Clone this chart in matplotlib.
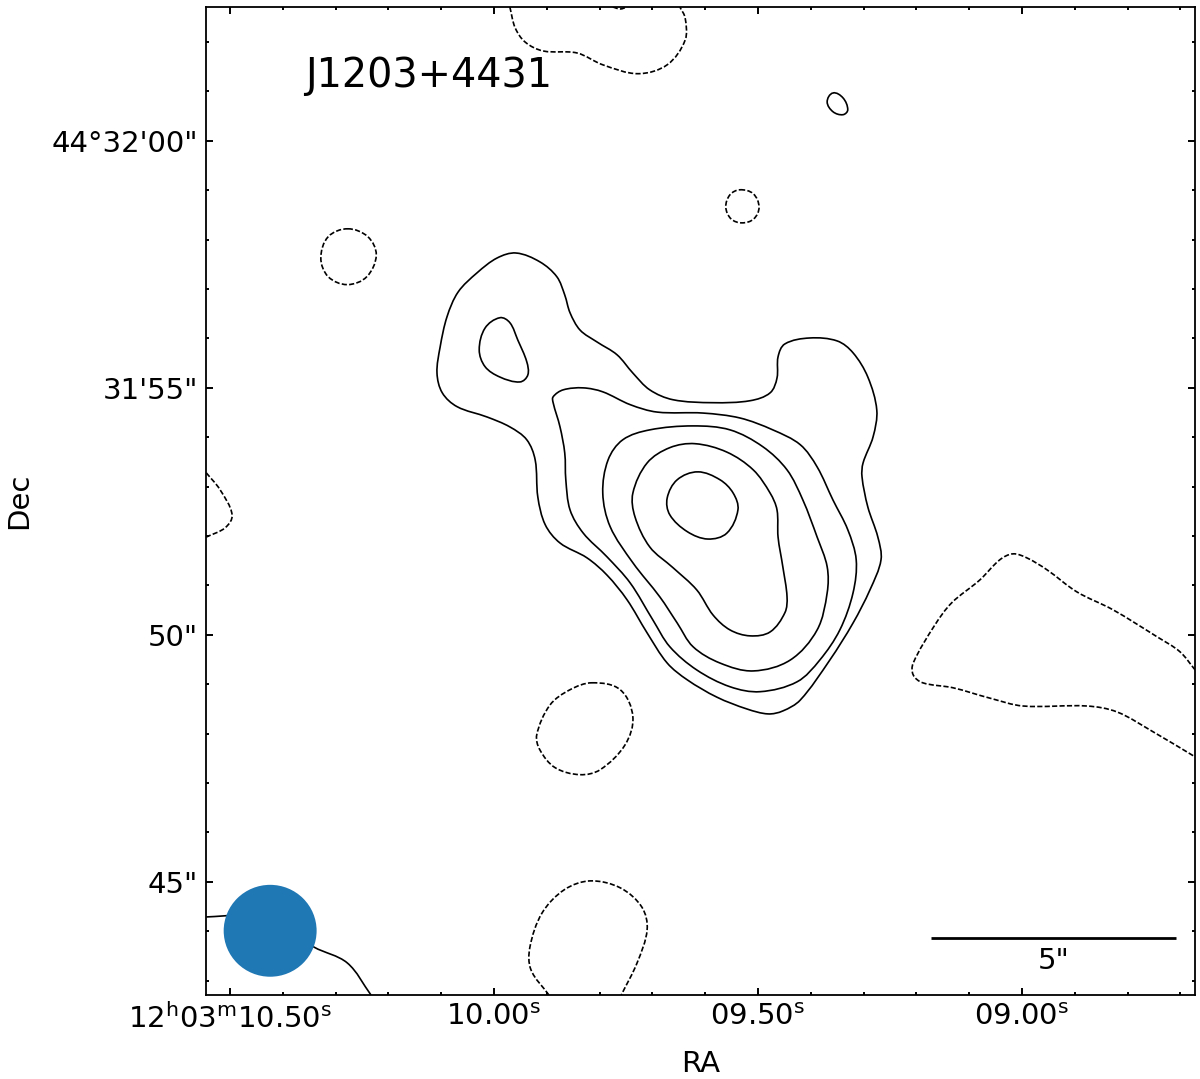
import matplotlib
matplotlib.use('Agg')
import matplotlib.pyplot as plt
from matplotlib.patches import Ellipse, PathPatch
from matplotlib.path import Path
import numpy as np

# tick positions, RA in seconds (12h03m + s), Dec in arcsec past 44d31m
ra_major = [10.5, 10.0, 9.5, 9.0]
ra_labels = ["12$^{\\rm h}$03$^{\\rm m}$10.50$^{\\rm s}$", "10.00$^{\\rm s}$", "09.50$^{\\rm s}$", "09.00$^{\\rm s}$"]
ra_minor = [10.4, 10.3, 10.2, 10.1, 9.9, 9.8, 9.7, 9.6, 9.4, 9.3, 9.2, 9.1, 8.9, 8.8, 8.7]
dec_major = [60, 55, 50, 45]
dec_labels = ["44°32'00\"", "31'55\"", "50\"", "45\""]
dec_minor = [62, 61, 59, 58, 57, 56, 54, 53, 52, 51, 49, 48, 47, 46, 44, 43]

# closed positive contours
c1_ra = [9.958, 9.913, 9.881, 9.866, 9.856, 9.837, 9.805, 9.767, 9.737, 9.705, 9.661, 9.585, 9.515, 9.477, 9.464, 9.462, 9.449, 9.402, 9.350, 9.320, 9.292, 9.275, 9.282, 9.301, 9.303, 9.292, 9.273, 9.267, 9.288, 9.320, 9.364, 9.420, 9.453, 9.481, 9.521, 9.578, 9.634, 9.672, 9.710, 9.748, 9.786, 9.824, 9.875, 9.903, 9.917, 9.922, 9.938, 9.970, 10.013, 10.070, 10.098, 10.108, 10.102, 10.089, 10.068, 10.032, 9.994]
c1_dec = [57.73, 57.55, 57.25, 56.88, 56.52, 56.17, 55.93, 55.67, 55.30, 54.96, 54.76, 54.70, 54.74, 54.90, 55.20, 55.63, 55.89, 56.01, 55.95, 55.71, 55.22, 54.55, 54.01, 53.48, 53.20, 52.59, 51.98, 51.52, 50.91, 50.24, 49.49, 48.68, 48.46, 48.40, 48.50, 48.74, 49.09, 49.43, 50.04, 50.71, 51.21, 51.56, 51.86, 52.23, 52.79, 53.54, 53.95, 54.21, 54.41, 54.62, 54.90, 55.30, 55.83, 56.44, 56.94, 57.33, 57.63]

c2_ra = [9.989, 9.970, 9.955, 9.938, 9.936, 9.951, 9.989, 10.017, 10.028, 10.017]
c2_dec = [56.42, 56.32, 55.97, 55.53, 55.26, 55.12, 55.22, 55.43, 55.77, 56.21]

c3_ra = [9.888, 9.869, 9.831, 9.794, 9.742, 9.691, 9.604, 9.534, 9.472, 9.420, 9.388, 9.358, 9.330, 9.314, 9.320, 9.345, 9.383, 9.426, 9.496, 9.553, 9.616, 9.667, 9.699, 9.742, 9.786, 9.831, 9.856, 9.864, 9.866, 9.875, 9.888]
c3_dec = [54.82, 54.96, 55.00, 54.92, 54.66, 54.51, 54.49, 54.39, 54.15, 53.85, 53.40, 52.73, 52.13, 51.52, 50.85, 50.10, 49.49, 49.05, 48.85, 48.95, 49.29, 49.76, 50.30, 51.05, 51.58, 52.06, 52.53, 53.14, 53.68, 54.21, 54.70]

c4_ra = [9.623, 9.553, 9.491, 9.445, 9.415, 9.388, 9.369, 9.369, 9.388, 9.439, 9.509, 9.572, 9.623, 9.653, 9.686, 9.737, 9.780, 9.794, 9.784, 9.756, 9.705]
c4_dec = [54.23, 54.15, 53.81, 53.34, 52.73, 51.98, 51.38, 50.85, 50.10, 49.49, 49.27, 49.43, 49.76, 50.24, 50.77, 51.46, 52.19, 52.87, 53.54, 53.95, 54.15]

c5_ra = [9.619, 9.559, 9.509, 9.477, 9.464, 9.462, 9.453, 9.445, 9.449, 9.477, 9.515, 9.553, 9.585, 9.616, 9.661, 9.705, 9.733, 9.737, 9.710, 9.667]
c5_dec = [53.87, 53.70, 53.34, 52.87, 52.53, 51.98, 51.38, 50.77, 50.45, 50.06, 49.98, 50.10, 50.40, 50.91, 51.36, 51.78, 52.39, 52.87, 53.48, 53.79]

c6_ra = [9.614, 9.572, 9.547, 9.538, 9.559, 9.595, 9.634, 9.667, 9.672, 9.653]
c6_dec = [53.30, 53.14, 52.87, 52.53, 52.06, 51.94, 52.09, 52.43, 52.77, 53.14]

c7_ra = [9.358, 9.339, 9.330, 9.339, 9.358, 9.369]
c7_dec = [60.97, 60.87, 60.63, 60.53, 60.59, 60.79]

# positive contour running off the bottom left corner
c8_ra = [10.545, 10.481, 10.405, 10.341, 10.278, 10.233]
c8_dec = [44.29, 44.31, 44.13, 43.68, 43.36, 42.71]

# negative contours (dashed)
d1_ra = [9.970, 9.960, 9.941, 9.907, 9.843, 9.794, 9.727, 9.672, 9.638, 9.638, 9.648]
d1_dec = [62.71, 62.29, 62.00, 61.82, 61.78, 61.54, 61.36, 61.54, 62.04, 62.49, 62.71]

d2_ra = [10.277, 10.239, 10.223, 10.241, 10.278, 10.314, 10.328, 10.314]
d2_dec = [58.22, 58.06, 57.69, 57.25, 57.09, 57.25, 57.63, 58.06]

d3_ra = [9.534, 9.509, 9.498, 9.508, 9.530, 9.551, 9.561, 9.553]
d3_dec = [59.01, 58.93, 58.66, 58.42, 58.34, 58.42, 58.66, 58.91]

d4_ra = [10.545, 10.519, 10.496, 10.509, 10.545]
d4_dec = [53.28, 52.94, 52.43, 52.17, 51.98]

d5_ra = [8.672, 8.701, 8.744, 8.828, 8.896, 8.953, 8.991, 9.017, 9.042, 9.080, 9.133, 9.165, 9.206, 9.206, 9.188, 9.131, 9.061, 8.998, 8.877, 8.820, 8.752, 8.672]
d5_dec = [49.29, 49.66, 49.96, 50.51, 50.87, 51.32, 51.56, 51.64, 51.52, 51.11, 50.65, 50.20, 49.43, 49.19, 49.03, 48.93, 48.72, 48.56, 48.56, 48.44, 48.04, 47.53]

d6_ra = [9.814, 9.761, 9.737, 9.752, 9.799, 9.837, 9.884, 9.913, 9.919, 9.894, 9.856]
d6_dec = [49.03, 48.89, 48.34, 47.77, 47.27, 47.17, 47.31, 47.67, 47.98, 48.58, 48.89]

d7_ra = [9.896, 9.930, 9.932, 9.909, 9.867, 9.818, 9.761, 9.720, 9.710, 9.729, 9.759]
d7_dec = [42.71, 43.22, 43.68, 44.37, 44.84, 45.02, 44.88, 44.49, 44.03, 43.36, 42.71]

d8_ra = [9.775, 9.761, 9.748]
d8_dec = [62.71, 62.67, 62.71]

closed_solid = [(c1_ra, c1_dec), (c2_ra, c2_dec), (c3_ra, c3_dec), (c4_ra, c4_dec), (c5_ra, c5_dec), (c6_ra, c6_dec), (c7_ra, c7_dec)]
open_solid = [(c8_ra, c8_dec)]
closed_dashed = [(d2_ra, d2_dec), (d3_ra, d3_dec), (d6_ra, d6_dec)]
open_dashed = [(d1_ra, d1_dec), (d4_ra, d4_dec), (d5_ra, d5_dec), (d7_ra, d7_dec), (d8_ra, d8_dec)]

# beam and scale bar
beam_ra = 10.424
beam_dec = 44.01
beam_w = 0.176
beam_h = 1.86
bar_ra = [9.172, 8.708]
bar_dec = [43.87, 43.87]

# one second of RA is this many arcsec on the page, used for curve tangents only
aspect = 10.69


def smooth_path(ra, dec, closed):
  # curve through the read points, tangents scaled by the segment length
  pts = np.column_stack([ra, dec])
  sc = np.array([aspect, 1.0])
  n = len(pts)

  def tangent(i):
    if closed:
      a, b = pts[(i-1) % n], pts[(i+1) % n]
    else:
      a, b = pts[max(i-1, 0)], pts[min(i+1, n-1)]
    d = (b-a)*sc
    return d/np.hypot(d[0], d[1])

  verts = [pts[0]]
  codes = [Path.MOVETO]
  for i in range(n if closed else n-1):
    j = (i+1) % n
    seg = (pts[j]-pts[i])*sc
    l = np.hypot(seg[0], seg[1])
    verts += [pts[i] + tangent(i)*l/3.0/sc, pts[j] - tangent(j)*l/3.0/sc, pts[j]]
    codes += [Path.CURVE4]*3
  return Path(verts, codes)


def draw(ax, lines, closed, ls):
  for ra, dec in lines:
    ax.add_patch(PathPatch(smooth_path(ra, dec, closed), fill=False, ec='black', lw=1.2, ls=ls, zorder=2))


fig = plt.figure(figsize=(12, 10.79), dpi=100)
ax = fig.add_axes([206/1200, 1-995/1079, 989/1200, 988/1079])
ax.set_xlim(10.5455, 8.6723)
ax.set_ylim(42.71, 62.71)

dash = (0, (3.1, 1.35))
draw(ax, closed_solid, True, '-')
draw(ax, open_solid, False, '-')
draw(ax, closed_dashed, True, dash)
draw(ax, open_dashed, False, dash)

ax.add_patch(Ellipse((beam_ra, beam_dec), beam_w, beam_h, fc='C0', ec='none', zorder=3))
ax.plot(bar_ra, bar_dec, color='black', lw=2.0, solid_capstyle='butt', zorder=3)
ax.text(np.mean(bar_ra), 43.4, '5"', fontsize=21, ha='center', va='center')
ax.text(10.358, 61.32, 'J1203+4431', fontsize=28.6, ha='left', va='center')

ax.set_xticks(ra_major)
ax.set_xticklabels(ra_labels)
ax.set_xticks(ra_minor, minor=True)
ax.set_yticks(dec_major)
ax.set_yticklabels(dec_labels)
ax.set_yticks(dec_minor, minor=True)
ax.tick_params(which='both', direction='in', top=True, right=True, width=1.4)
ax.tick_params(which='major', length=5, labelsize=21, pad=6)
ax.tick_params(which='minor', length=2.5)
for s in ax.spines.values():
  s.set_linewidth(1.3)

ax.set_xlabel('RA', fontsize=21)
ax.set_ylabel('Dec', fontsize=21)
ax.xaxis.set_label_coords(0.5, -0.056)
ax.yaxis.set_label_coords(-0.175, 0.50)

plt.savefig('out.png', dpi=100)
